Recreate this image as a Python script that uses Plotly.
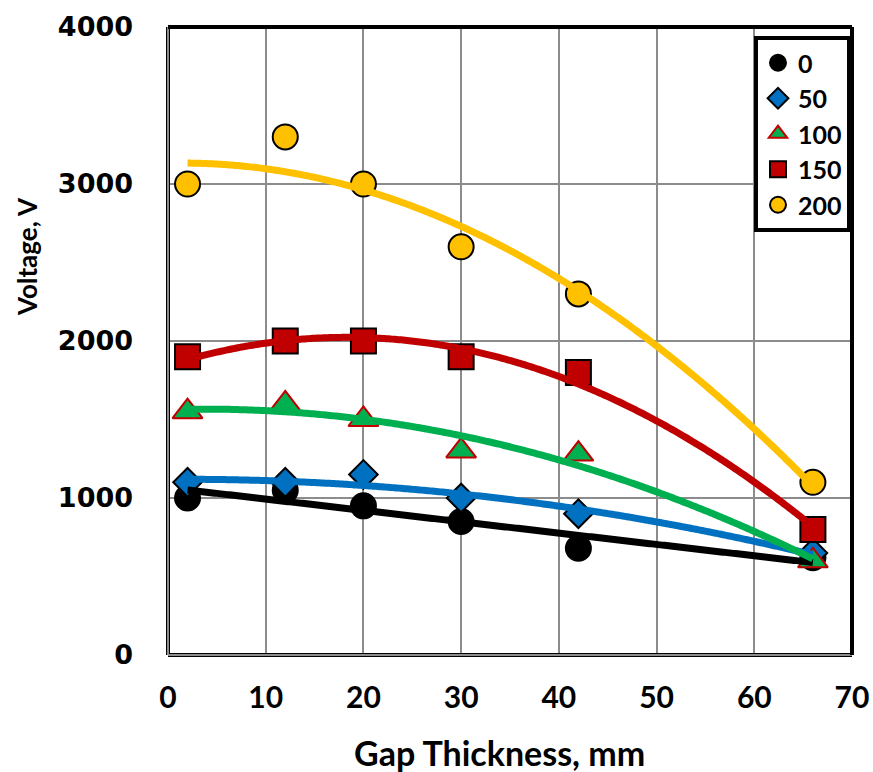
import numpy as np
import plotly.graph_objects as go

gap_mm = [2, 12, 20, 30, 42, 66]
series_names = ["0", "50", "100", "150", "200"]
v0 = [1000, 1050, 950, 850, 680, 620]
v50 = [1100, 1100, 1150, 1000, 900, 650]
v100 = [1550, 1600, 1500, 1300, 1280, 600]
v150 = [1900, 2000, 2000, 1900, 1800, 800]
v200 = [3000, 3300, 3000, 2600, 2300, 1100]
x_ticks = [0, 10, 20, 30, 40, 50, 60, 70]
y_ticks = [0, 1000, 2000, 3000, 4000]

values = [v0, v50, v100, v150, v200]
fit_order = [1, 2, 2, 2, 2]
line_colors = ["#000000", "#0070C0", "#00B050", "#C00000", "#FFC000"]
symbols = ["circle", "diamond", "triangle-up", "square", "circle"]
sizes = [25, 22, 26, 25, 25]
outline = ["#000000", "#000000", "#C00000", "#000000", "#000000"]

LABEL_FONT = "Lato, 'Open Sans', sans-serif"

fig = go.Figure()
for i, (name, ys) in enumerate(zip(series_names, values)):
    fig.add_trace(go.Scatter(
        x=gap_mm, y=ys, mode="markers", name=name,
        legendgroup=name,
        marker=dict(symbol=symbols[i], size=sizes[i], color=line_colors[i],
                    line=dict(color=outline[i], width=2)),
    ))

xs_fit = np.linspace(min(gap_mm), max(gap_mm), 300)
for i, ys in enumerate(values):
    coef = np.polyfit(gap_mm, ys, fit_order[i])
    fig.add_trace(go.Scatter(
        x=xs_fit, y=np.polyval(coef, xs_fit), mode="lines",
        line=dict(color=line_colors[i], width=7, simplify=False),
        showlegend=False, hoverinfo="skip",
    ))

grid = "#8C8C8C"
fig.update_xaxes(range=[0, 70], tickvals=x_ticks, showgrid=True, gridcolor=grid,
                 gridwidth=1.5, zeroline=False, showline=False, ticks="",
                 automargin=False,
                 tickfont=dict(family=LABEL_FONT, size=30, color="black", weight="bold"),
                 ticklabelstandoff=22)
fig.update_yaxes(range=[0, 4000], tickvals=y_ticks, showgrid=True, gridcolor=grid,
                 gridwidth=1.5, zeroline=False, showline=False, ticks="",
                 automargin=False,
                 tickfont=dict(family="DejaVu Sans", size=27, color="black", weight="bold"),
                 ticklabelstandoff=34)

# plot frame
shapes = [
    dict(type="line", xref="paper", yref="paper", x0=0, x1=0, y0=0, y1=1,
         line=dict(color="black", width=4)),
    dict(type="line", xref="paper", yref="paper", x0=0, x1=1, y0=0, y1=0,
         line=dict(color="black", width=4)),
    dict(type="line", xref="paper", yref="paper", x0=0, x1=0, y0=0, y1=1,
         line=dict(color="#8C8C8C", width=2)),
    dict(type="line", xref="paper", yref="paper", x0=0, x1=1, y0=0, y1=0,
         line=dict(color="#8C8C8C", width=2)),
    dict(type="line", xref="paper", yref="paper", x0=0, x1=1, y0=1, y1=1,
         line=dict(color="black", width=4)),
    dict(type="line", xref="paper", yref="paper", x0=1, x1=1, y0=0, y1=1,
         line=dict(color="black", width=4)),
]

annotations = [
    dict(text="Gap Thickness, mm", xref="paper", yref="paper", x=(499 - 168) / 684, y=0,
         yshift=-97, showarrow=False, xanchor="center", yanchor="middle",
         font=dict(family=LABEL_FONT, size=34, color="black", weight="bold")),
    dict(text="Voltage, V", xref="paper", yref="paper", x=(27 - 168) / 684, y=(655 - 257) / 628,
         showarrow=False, textangle=-90, xanchor="center", yanchor="middle",
         font=dict(family=LABEL_FONT, size=26, color="black", weight="bold")),
]

fig.update_layout(
    width=873, height=772,
    margin=dict(l=168, r=21, t=27, b=117),
    paper_bgcolor="white", plot_bgcolor="white",
    shapes=shapes, annotations=annotations,
    legend=dict(x=(754 - 168) / 684, y=(655 - 36) / 628, xanchor="left", yanchor="top",
                bordercolor="black", borderwidth=4, bgcolor="white",
                font=dict(family=LABEL_FONT, size=25, color="black", weight="bold"),
                tracegroupgap=0, itemwidth=30),
    showlegend=True,
)

# remove the browser's default 8px body margin so the 873x772 figure fills the window exactly
fig.write_html("out.html",
               config={"displayModeBar": False},
               post_script="document.body.style.margin='0';document.body.style.overflow='hidden';")
